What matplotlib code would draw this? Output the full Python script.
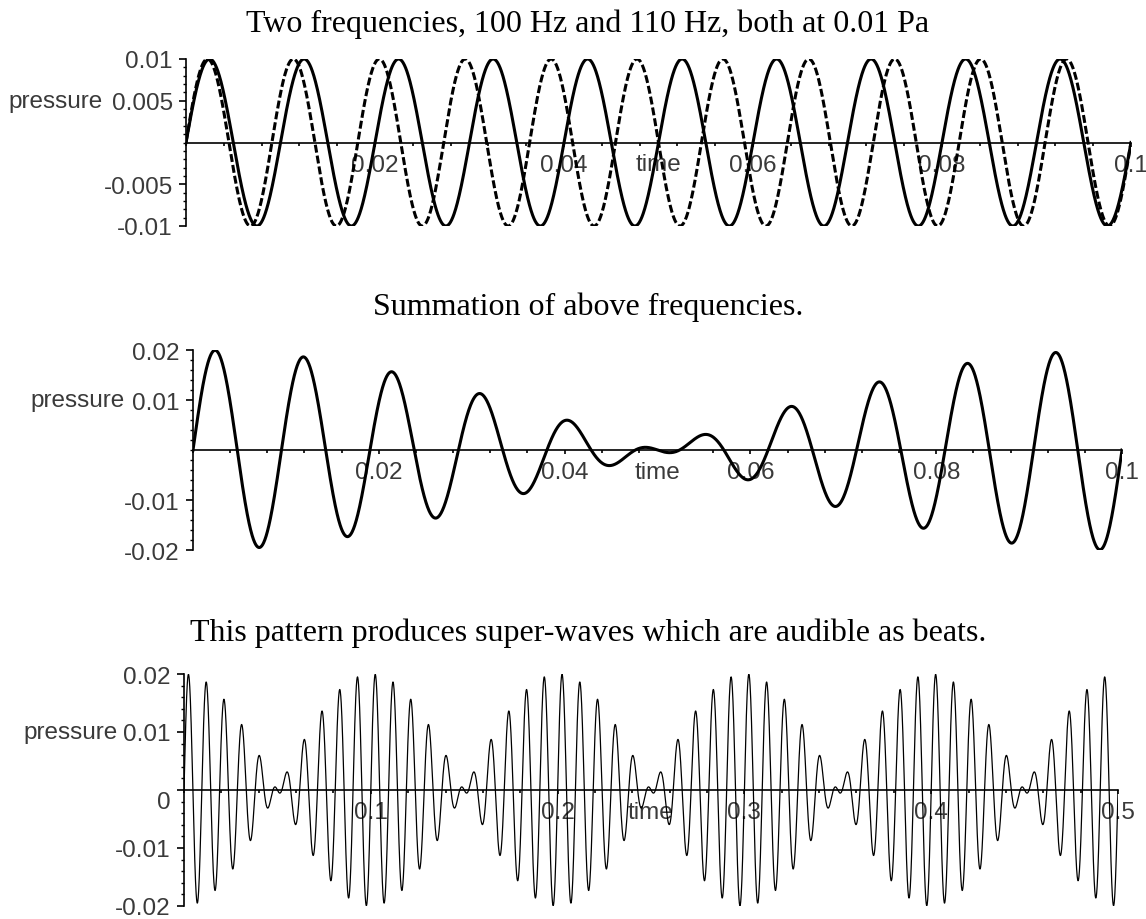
import matplotlib
matplotlib.use("Agg")
import matplotlib.pyplot as plt
import matplotlib.transforms as mtransforms
import numpy as np
from matplotlib.ticker import MultipleLocator

# ── data: the two tones ──────────────────────────────────────────
freqs_hz = [100, 110]        # Hz
amps_pa = [0.01, 0.01]       # Pa

titles = [
    "Two frequencies, 100 Hz and 110 Hz, both at 0.01 Pa",
    "Summation of above frequencies.",
    "This pattern produces super-waves which are audible as beats.",
]

t_end = [0.1, 0.1, 0.5]
ylims = [0.01, 0.02, 0.02]

xticks = [[0.02, 0.04, 0.06, 0.08, 0.1],
          [0.02, 0.04, 0.06, 0.08, 0.1],
          [0.1, 0.2, 0.3, 0.4, 0.5]]
xticklabels = [["0.02", "0.04", "0.06", "0.08", "0.1"],
               ["0.02", "0.04", "0.06", "0.08", "0.1"],
               ["0.1", "0.2", "0.3", "0.4", "0.5"]]
yticks = [[0.01, 0.005, -0.005, -0.01],
          [0.02, 0.01, -0.01, -0.02],
          [0.02, 0.01, 0, -0.01, -0.02]]
yticklabels = [["0.01", "0.005", "-0.005", "-0.01"],
               ["0.02", "0.01", "-0.01", "-0.02"],
               ["0.02", "0.01", "0", "-0.01", "-0.02"]]
x_minor = [0.004, 0.004, 0.02]
y_minor = [0.001, 0.002, 0.002]


def tone(t, f, a):
    return a * np.sin(2 * np.pi * f * t)


# ── figure layout (pixels -> fractions) ─────────────────────────
W, H = 1146, 920
fig = plt.figure(figsize=(W / 100, H / 100), dpi=100)

# left, right, top, bottom in pixels
boxes = [(186, 1131, 60, 227), (193, 1122, 351, 551), (184, 1118, 675, 907)]
title_baseline = [32, 315, 641]
pressure_off = [83, 68, 66]

sans = "Liberation Sans"
serif = "Liberation Serif"
lab_col = "#3a3a3a"

axes = []
for i, (l, r, top, bot) in enumerate(boxes):
    ax = fig.add_axes([l / W, 1 - bot / H, (r - l) / W, (bot - top) / H])
    axes.append(ax)
    ax.set_xlim(0, t_end[i])
    ax.set_ylim(-ylims[i], ylims[i])
    ax.patch.set_visible(False)

    for s in ("top", "right"):
        ax.spines[s].set_visible(False)
    ax.spines["bottom"].set_position("zero")
    ax.spines["bottom"].set_linewidth(1.2)
    ax.spines["left"].set_linewidth(1.2)

    ax.set_xticks(xticks[i])
    ax.set_xticklabels(xticklabels[i])
    ax.set_yticks(yticks[i])
    ax.set_yticklabels(yticklabels[i])
    ax.xaxis.set_minor_locator(MultipleLocator(x_minor[i]))
    ax.yaxis.set_minor_locator(MultipleLocator(y_minor[i]))

    ax.tick_params(axis="x", which="major", direction="out", length=3,
                   width=1.2, pad=5, labelsize=17.5, labelcolor=lab_col)
    ax.tick_params(axis="x", which="minor", direction="out", length=2.5, width=1.2)
    ax.tick_params(axis="y", which="major", direction="out", length=5,
                   width=1.2, pad=4.5, labelsize=17.5, labelcolor=lab_col)
    ax.tick_params(axis="y", which="minor", direction="out", length=2.5, width=1.0)
    for lab in ax.get_xticklabels() + ax.get_yticklabels():
        lab.set_fontfamily(sans)

    # Maple puts the "0" label a bit under the horizontal axis
    for val, lab in zip(yticks[i], ax.get_yticklabels()):
        if val == 0:
            shift = mtransforms.ScaledTranslation(0, -0.10, fig.dpi_scale_trans)
            lab.set_transform(lab.get_transform() + shift)

    # axis names, Maple style
    ax.annotate("time", xy=(0.5, 0), xycoords=ax.get_yaxis_transform(),
                xytext=(0, -11), textcoords="offset pixels", ha="center",
                va="top", fontsize=17.5, family=sans, color=lab_col, zorder=1)
    ax.annotate("pressure", xy=(0, yticks[i][1]), xycoords=ax.get_yaxis_transform(),
                xytext=(-pressure_off[i], 0), textcoords="offset pixels",
                ha="right", va="center", fontsize=17.5, family=sans,
                color=lab_col, annotation_clip=False)

    fig.text(588 / W, 1 - title_baseline[i] / H, titles[i], ha="center",
             va="baseline", fontsize=23, family=serif, color="black")

# ── panel 1: the two tones ──────────────────────────────────────
t1 = np.linspace(0, t_end[0], 3000)
axes[0].plot(t1, tone(t1, freqs_hz[0], amps_pa[0]), color="black", lw=2.2)
axes[0].plot(t1, tone(t1, freqs_hz[1], amps_pa[1]), color="black", lw=2.2,
             linestyle=(0, (2.6, 1.0)))

# ── panel 2: their sum ──────────────────────────────────────────
t2 = np.linspace(0, t_end[1], 3000)
sum2 = tone(t2, freqs_hz[0], amps_pa[0]) + tone(t2, freqs_hz[1], amps_pa[1])
axes[1].plot(t2, sum2, color="black", lw=2.2)

# ── panel 3: beats over half a second ───────────────────────────
t3 = np.linspace(0, t_end[2], 6000)
sum3 = tone(t3, freqs_hz[0], amps_pa[0]) + tone(t3, freqs_hz[1], amps_pa[1])
axes[2].plot(t3, sum3, color="black", lw=0.9)

fig.savefig("out.png", dpi=100)
